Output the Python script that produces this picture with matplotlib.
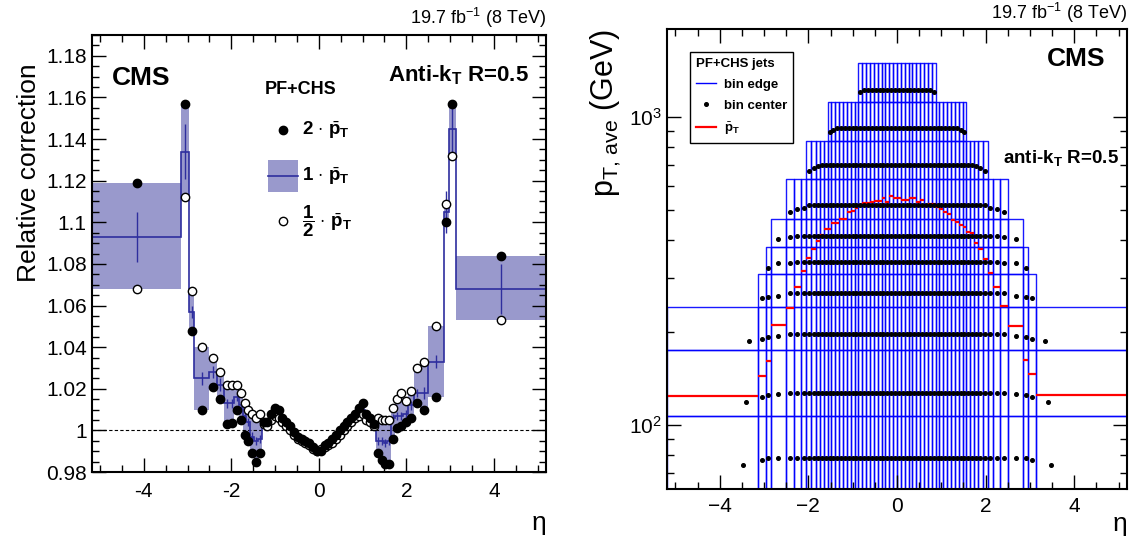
import numpy as np
import matplotlib
matplotlib.use("Agg")
import matplotlib.pyplot as plt
from matplotlib.patches import Rectangle
from matplotlib.collections import PatchCollection
from matplotlib.lines import Line2D
from matplotlib.ticker import MultipleLocator, FuncFormatter, LogLocator, NullFormatter

plt.rcParams['font.family'] = ['Liberation Sans', 'DejaVu Sans']
plt.rcParams['mathtext.fontset'] = 'custom'
plt.rcParams['mathtext.rm'] = 'Liberation Sans'
plt.rcParams['mathtext.bf'] = 'Liberation Sans:bold'
plt.rcParams['mathtext.it'] = 'Liberation Sans:italic'
plt.rcParams['mathtext.sf'] = 'Liberation Sans'

# eta binning (outer HF bins and 2.5-2.853 merged)
eta_edges = [-5.191, -3.139, -2.964, -2.853, -2.5, -2.322, -2.172, -2.043, -1.93, -1.83,
             -1.74, -1.653, -1.566, -1.479, -1.392, -1.305, -1.218, -1.131, -1.044, -0.957,
             -0.879, -0.783, -0.696, -0.609, -0.522, -0.435, -0.348, -0.261, -0.174, -0.087,
             0.0, 0.087, 0.174, 0.261, 0.348, 0.435, 0.522, 0.609, 0.696, 0.783,
             0.879, 0.957, 1.044, 1.131, 1.218, 1.305, 1.392, 1.479, 1.566, 1.653,
             1.74, 1.83, 1.93, 2.043, 2.172, 2.322, 2.5, 2.853, 2.964, 3.139, 5.191]

# left panel: relative correction for pT scale variations
corr_1 = [1.093, 1.134, 1.057, 1.025, 1.028, 1.022, 1.013, 1.013, 1.016, 1.012,
          1.007, 1.004, 0.997, 0.995, 0.996, 1.003, 1.003, 1.006, 1.009, 1.008,
          1.005, 1.003, 1.001, 0.999, 0.997, 0.996, 0.995, 0.994, 0.992, 0.991,
          0.991, 0.993, 0.994, 0.995, 0.997, 0.999, 1.001, 1.003, 1.005, 1.007,
          1.009, 1.010, 1.006, 1.005, 1.002, 0.995, 0.995, 0.994, 0.995, 1.006,
          1.007, 1.007, 1.008, 1.012, 1.018, 1.018, 1.033, 1.105, 1.145, 1.068]
corr_2 = [1.119, 1.157, 1.048, 1.010, 1.021, 1.015, 1.003, 1.0035, 1.0096, 1.005,
          0.998, 0.995, 0.989, 0.985, 0.989, 1.004, 1.004, 1.008, 1.011, 1.010,
          1.006, 1.004, 1.002, 0.999, 0.997, 0.996, 0.995, 0.994, 0.992, 0.990,
          0.990, 0.993, 0.994, 0.996, 0.998, 1.000, 1.002, 1.004, 1.006, 1.008,
          1.011, 1.013, 1.008, 1.006, 1.003, 0.989, 0.986, 0.984, 0.984, 0.996,
          1.001, 1.002, 1.004, 1.006, 1.013, 1.010, 1.016, 1.100, 1.157, 1.084]
corr_half = [1.068, 1.112, 1.067, 1.040, 1.035, 1.028, 1.022, 1.022, 1.022, 1.018,
             1.013, 1.010, 1.008, 1.006, 1.008, 1.003, 1.002, 1.005, 1.007, 1.006,
             1.004, 1.002, 1.000, 0.998, 0.996, 0.995, 0.994, 0.993, 0.991, 0.990,
             0.991, 0.992, 0.993, 0.994, 0.996, 0.998, 1.000, 1.002, 1.004, 1.006,
             1.007, 1.008, 1.005, 1.004, 1.002, 1.006, 1.005, 1.005, 1.005, 1.011,
             1.015, 1.018, 1.014, 1.019, 1.030, 1.033, 1.050, 1.109, 1.132, 1.053]
corr_err = [0.012, 0.013, 0.003, 0.003, 0.003, 0.003, 0.002, 0.002, 0.002, 0.002,
            0.002, 0.002, 0.002, 0.002, 0.002, 0.0015, 0.0015, 0.0015, 0.0015, 0.0015,
            0.0015, 0.0015, 0.0015, 0.0015, 0.0015, 0.0015, 0.0015, 0.0015, 0.0015, 0.0015,
            0.0015, 0.0015, 0.0015, 0.0015, 0.0015, 0.0015, 0.0015, 0.0015, 0.0015, 0.0015,
            0.0015, 0.0015, 0.0015, 0.0015, 0.0015, 0.002, 0.002, 0.002, 0.002, 0.002,
            0.002, 0.002, 0.002, 0.002, 0.002, 0.003, 0.003, 0.010, 0.012, 0.012]

# right panel: pT,ave binning
pt_edges = [62, 107, 175, 242, 310, 379, 467, 628, 839, 1121, 1500]
row_eta_max = [5.191, 5.191, 5.191, 3.139, 2.964, 2.853, 2.5, 2.043, 1.566, 0.879]
row_pt_mid = [78, 127, 198, 269, 340, 410, 520, 702, 922, 1224]
row_pt_edge = [[74, 77, 78], [119, 123, 125, 126], [188, 191, 194, 195],
               [258, 261, 263], [325, 335, 337], [401, 407], [492, 502, 507],
               [671, 686, 695], [898, 912], [1210]]
outer_dot_eta = [3.48, 3.40, 3.33]
pt_bar = [124, 144, 162, 211, 240, 281, 317, 348, 374, 397,
          414, 434, 434, 453, 453, 468, 468, 492, 498, 506,
          518, 528, 528, 532, 536, 533, 547, 532, 556, 547,
          545, 540, 540, 545, 545, 532, 538, 516, 522, 522,
          512, 502, 494, 485, 463, 458, 448, 439, 423, 420,
          391, 373, 346, 313, 280, 244, 210, 163, 147, 125]

edges = np.array(eta_edges)
lo_e = edges[:-1]
hi_e = edges[1:]
centers = 0.5 * (lo_e + hi_e)

fig = plt.figure(figsize=(11.36, 5.41), dpi=100)
ax1 = fig.add_axes([0.0807, 0.1275, 0.3999, 0.8078])
ax2 = fig.add_axes([0.5871, 0.0961, 0.4050, 0.8503])

band_col = '#9999cc'
line_col = '#2e2e9e'

# ---- left panel ----
band_lo = np.minimum(corr_2, corr_half)
band_hi = np.maximum(corr_2, corr_half)
ax1.bar(lo_e, band_hi - band_lo, bottom=band_lo, width=hi_e - lo_e, align='edge',
        color=band_col, linewidth=0, zorder=1)
ax1.stairs(corr_1, edges, color=line_col, linewidth=1.2, baseline=None, zorder=2)
ax1.errorbar(centers, corr_1, yerr=corr_err, fmt='none', ecolor=line_col, elinewidth=1, zorder=2)
ax1.axhline(1.0, color='black', linestyle=(0, (3, 2)), linewidth=0.8, zorder=1.5)
ax1.plot(centers, corr_2, 'o', color='black', markersize=6, zorder=4)
ax1.plot(centers, corr_half, 'o', markerfacecolor='white', markeredgecolor='black',
         markeredgewidth=1, markersize=6, zorder=3)

ax1.set_xlim(-5.191, 5.191)
ax1.set_ylim(0.98, 1.19)
ax1.xaxis.set_major_locator(MultipleLocator(2))
ax1.xaxis.set_minor_locator(MultipleLocator(0.5))
ax1.yaxis.set_major_locator(MultipleLocator(0.02))
ax1.yaxis.set_minor_locator(MultipleLocator(0.005))
ax1.xaxis.set_major_formatter(FuncFormatter(lambda v, p: f'{round(v, 6):g}'))
ax1.yaxis.set_major_formatter(FuncFormatter(lambda v, p: f'{round(v, 6):g}'))

ax1.set_ylabel('Relative correction', fontsize=19, loc='top')
ax1.yaxis.set_label_coords(-0.112, 0.936)
ax1.set_xlabel('η', fontsize=19, loc='right')
ax1.xaxis.set_label_coords(1.0, -0.09)

ax1.text(0.045, 0.93, 'CMS', transform=ax1.transAxes, fontsize=19, fontweight='bold',
         ha='left', va='top')
ax1.text(0.962, 0.935, 'Anti-k$_{\\mathbf{T}}$ R=0.5', transform=ax1.transAxes, fontsize=16,
         fontweight='bold', ha='right', va='top')
ax1.text(1.0, 1.012, '19.7 fb$^{-1}$ (8 TeV)', transform=ax1.transAxes, fontsize=13,
         ha='right', va='bottom')

# legend drawn by hand
ax1.text(0.381, 0.876, 'PF+CHS', transform=ax1.transAxes, fontsize=13, fontweight='bold',
         ha='left', va='center')
ax1.plot([0.421], [0.783], 'o', color='black', markersize=6, transform=ax1.transAxes,
         clip_on=False)
ax1.text(0.463, 0.783, '2 $\\cdot$ $\\bar{\\mathbf{p}}_{\\mathbf{T}}$', transform=ax1.transAxes,
         fontsize=13.5, fontweight='bold', ha='left', va='center')
ax1.add_patch(Rectangle((0.3885, 0.641), 0.066, 0.073, transform=ax1.transAxes,
                        facecolor=band_col, edgecolor='none'))
ax1.plot([0.3885, 0.4545], [0.677, 0.677], color=line_col, linewidth=1.2,
         transform=ax1.transAxes)
ax1.text(0.463, 0.677, '1 $\\cdot$ $\\bar{\\mathbf{p}}_{\\mathbf{T}}$', transform=ax1.transAxes,
         fontsize=13.5, fontweight='bold', ha='left', va='center')
ax1.plot([0.421], [0.575], 'o', markerfacecolor='white', markeredgecolor='black',
         markersize=6, transform=ax1.transAxes)
ax1.text(0.463, 0.575, '$\\mathbf{\\dfrac{1}{2}}$ $\\cdot$ $\\bar{\\mathbf{p}}_{\\mathbf{T}}$',
         transform=ax1.transAxes, fontsize=13.5, fontweight='bold', ha='left', va='center')

# ---- right panel ----
rects = []
dots_x = []
dots_y = []
for r in range(len(pt_edges) - 1):
    emax = row_eta_max[r]
    idx = [i for i in range(len(lo_e)) if lo_e[i] >= -emax - 1e-6 and hi_e[i] <= emax + 1e-6]
    n = len(idx)
    for j, i in enumerate(idx):
        rects.append(Rectangle((lo_e[i], pt_edges[r]), hi_e[i] - lo_e[i],
                               pt_edges[r + 1] - pt_edges[r]))
        k = min(j, n - 1 - j)
        val = row_pt_edge[r][k] if k < len(row_pt_edge[r]) else row_pt_mid[r]
        x = centers[i]
        if abs(x) > 4 and r < len(outer_dot_eta):
            x = np.sign(x) * outer_dot_eta[r]
        dots_x.append(x)
        dots_y.append(val)

ax2.add_collection(PatchCollection(rects, facecolor='none', edgecolor='#0000ff',
                                   linewidth=1.0, alpha=0.9, zorder=1))
ax2.plot(dots_x, dots_y, 'o', color='black', markersize=2.6, zorder=3)
ax2.hlines(pt_bar, lo_e, hi_e, color='red', linewidth=1.6, zorder=2)

ax2.set_xlim(-5.191, 5.191)
ax2.set_yscale('log')
ax2.set_ylim(62, 1936)
ax2.xaxis.set_major_locator(MultipleLocator(2))
ax2.xaxis.set_minor_locator(MultipleLocator(0.5))
ax2.xaxis.set_major_formatter(FuncFormatter(lambda v, p: f'{round(v, 6):g}'.replace('-', '\u2212')))
ax2.yaxis.set_major_locator(LogLocator(base=10, numticks=10))
ax2.yaxis.set_minor_locator(LogLocator(base=10, subs=np.arange(2, 10), numticks=10))
ax2.yaxis.set_minor_formatter(NullFormatter())

ax2.set_ylabel('p$_{\\mathrm{T,\\,ave}}$ (GeV)', fontsize=22, loc='top')
ax2.yaxis.set_label_coords(-0.095, 1.0)
ax2.set_xlabel('η', fontsize=19, loc='right')
ax2.xaxis.set_label_coords(1.0, -0.05)

ax2.text(0.952, 0.96, 'CMS', transform=ax2.transAxes, fontsize=19, fontweight='bold',
         ha='right', va='top')
ax2.text(0.983, 0.72, 'anti-k$_{\\mathbf{T}}$ R=0.5', transform=ax2.transAxes, fontsize=13.5,
         fontweight='bold', ha='right', va='center')
ax2.text(1.0, 1.008, '19.7 fb$^{-1}$ (8 TeV)', transform=ax2.transAxes, fontsize=13,
         ha='right', va='bottom')

handles = [Line2D([], [], color='#0000ff', linewidth=1),
           Line2D([], [], linestyle='none', marker='o', color='black', markersize=2.6),
           Line2D([], [], color='red', linewidth=1.6)]
labels = ['bin edge', 'bin center', '$\\bar{\\mathbf{p}}_{\\mathbf{T}}$']
leg = ax2.legend(handles, labels, loc='upper left', bbox_to_anchor=(0.05, 0.95),
                 borderaxespad=0, title='PF+CHS jets', alignment='left', frameon=True,
                 fancybox=False, edgecolor='black', framealpha=1, borderpad=0.45,
                 handlelength=1.5, handletextpad=0.6, labelspacing=0.65,
                 prop={'weight': 'bold', 'size': 9.5},
                 title_fontproperties={'weight': 'bold', 'size': 9.5})
leg.get_frame().set_linewidth(1)

for ax in (ax1, ax2):
    for s in ax.spines.values():
        s.set_linewidth(1.5)
    ax.tick_params(which='both', direction='in', top=True, right=True, labelsize=15, width=1)
    ax.tick_params(which='major', length=10)
    ax.tick_params(which='minor', length=5)
ax1.tick_params(axis='x', pad=7)
ax2.tick_params(axis='x', pad=6)

fig.savefig('out.png', dpi=100)
